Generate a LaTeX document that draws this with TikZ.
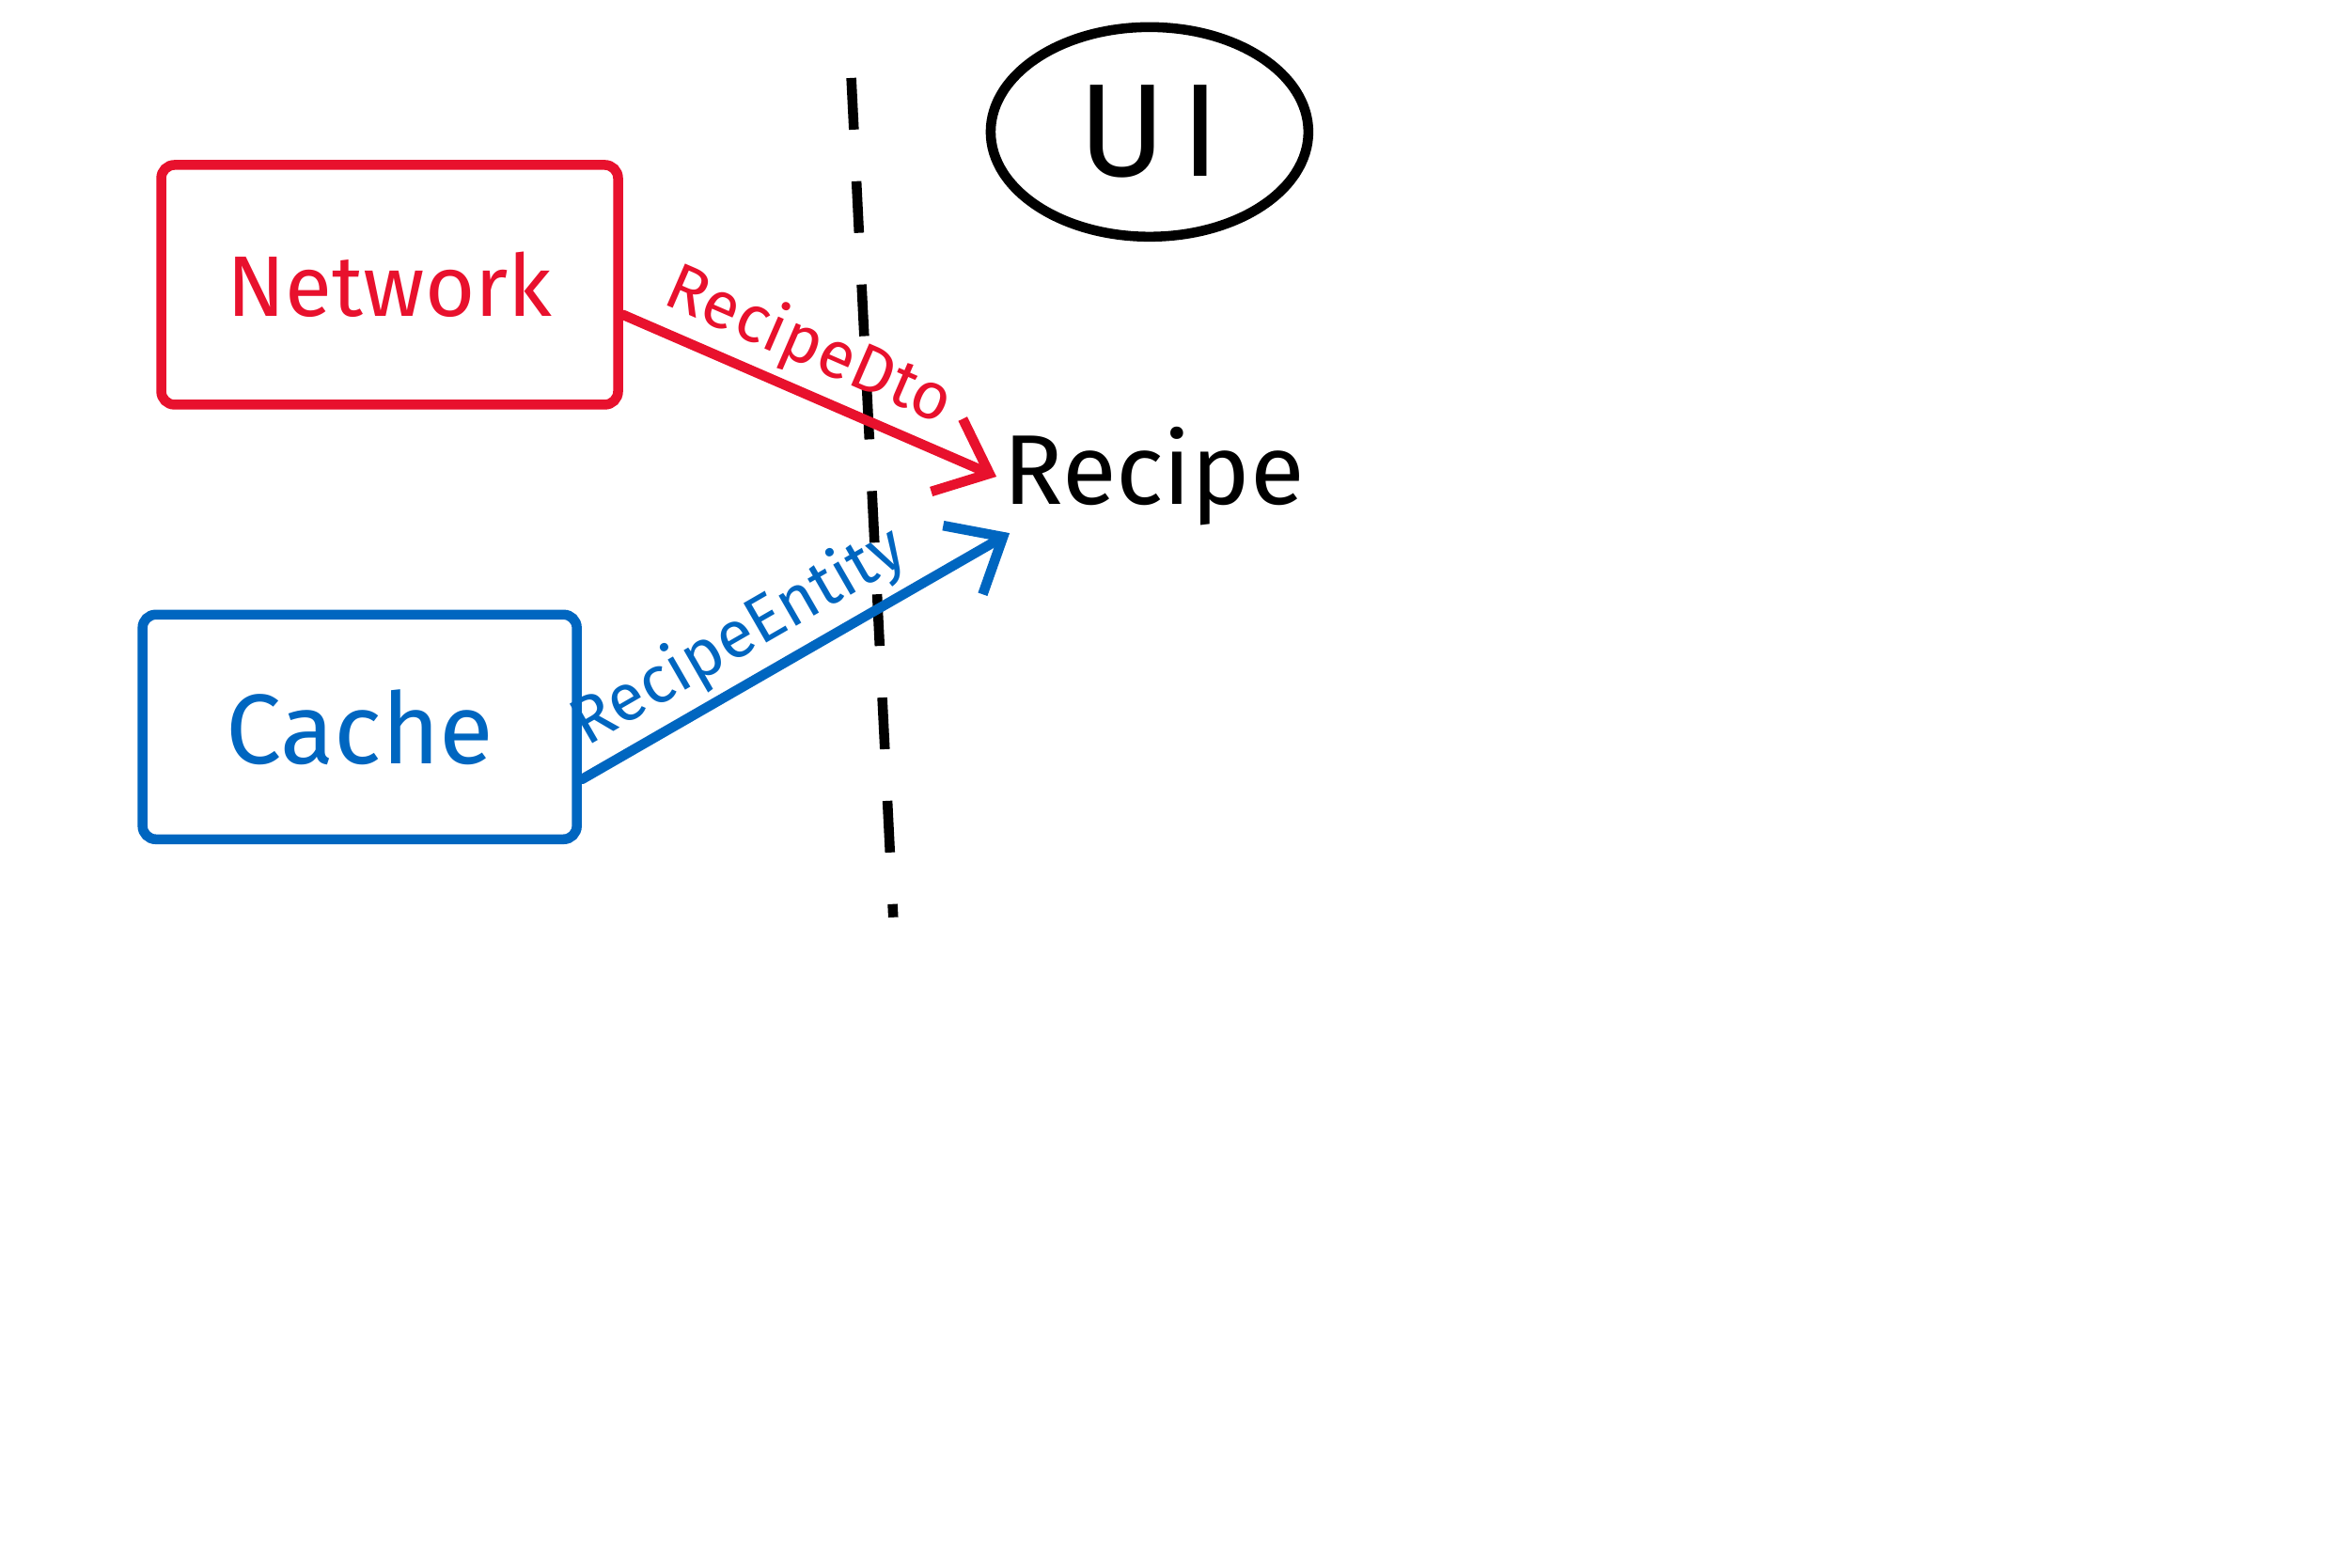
\documentclass[tikz,border=0pt]{standalone}
\usepackage{fontspec}
\setmainfont{Fira Sans}
\usetikzlibrary{arrows.meta,positioning,shapes.geometric}
\definecolor{sketchred}{RGB}{232,17,45}
\definecolor{sketchblue}{RGB}{0,102,192}
\tikzset{
  layer/.style={draw, line width=3pt, rounded corners=4pt},
  flow/.style={line width=3pt, line cap=round, -{Straight Barb[length=14pt,width=24pt,line width=3pt]}},
  flowlabel/.style={font=\fontsize{20}{22}\selectfont, sloped, above, inner sep=2pt}
}
\begin{document}
\begin{tikzpicture}[x=0.01594cm, y=-0.01594cm]
\useasboundingbox (0,0) rectangle (1568,1046);
\node[layer, sketchred, minimum width=4.86cm, minimum height=2.55cm, font=\fontsize{26}{30}\selectfont] (net) at (260,190) {Network};
\node[layer, sketchblue, minimum width=4.62cm, minimum height=2.39cm, font=\fontsize{30}{34}\selectfont] (cache) at (240,485) {Cache};
\node[ellipse, draw, line width=3pt, minimum width=3.38cm, minimum height=2.23cm, font=\fontsize{40}{44}\selectfont\addfontfeature{LetterSpace=12}] (ui) at (767,88) {UI};
\node[font=\fontsize{30}{34}\selectfont, inner sep=2pt] (recipe) at (770,318) {Recipe};
% boundary between data and ui
\coordinate (top) at (568,52);
\coordinate (bottom) at (596,612);
\draw[line width=3pt, dash pattern=on 0.55cm off 0.55cm] (top) -- (bottom);
\draw[flow, sketchred] (net.east |- 0,210) -- node[flowlabel, pos=0.45] {RecipeDto} (recipe.west);
\draw[flow, sketchblue] (cache.east |- 0,520) -- node[flowlabel, pos=0.42] {RecipeEntity} ([xshift=4pt]recipe.south west);
\end{tikzpicture}
\end{document}
